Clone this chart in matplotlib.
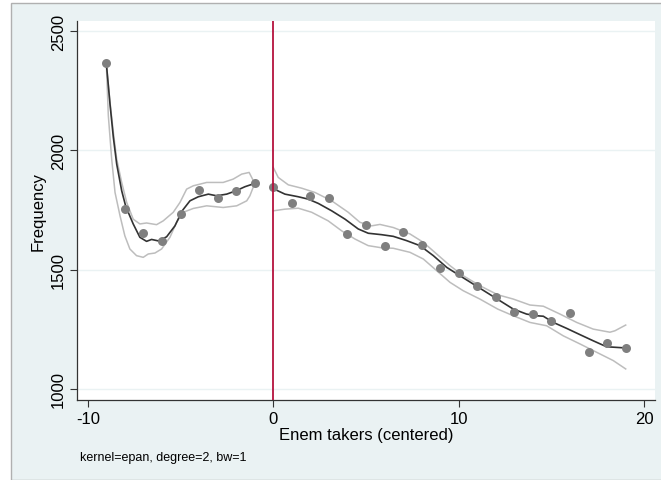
import matplotlib
matplotlib.use('Agg')
import matplotlib.pyplot as plt
from matplotlib.patches import Rectangle

plt.rcParams['font.family'] = ['Liberation Sans', 'DejaVu Sans']
plt.rcParams['axes.unicode_minus'] = False

# binned counts of Enem takers, left and right of the cutoff
x_left = [-9, -8, -7, -6, -5, -4, -3, -2, -1]
freq_left = [2366, 1754, 1654, 1622, 1733, 1834, 1800, 1831, 1862]
x_right = [0, 1, 2, 3, 4, 5, 6, 7, 8, 9, 10, 11, 12, 13, 14, 15, 16, 17, 18, 19]
freq_right = [1848, 1780, 1808, 1799, 1650, 1687, 1601, 1657, 1604, 1506,
              1485, 1430, 1387, 1324, 1314, 1284, 1317, 1156, 1191, 1170]

# lpoly smooth (epan, degree 2, bw 1), each side of the cutoff
fit_left_x = [-9.0, -8.80, -8.62, -8.44, -8.17, -7.95, -7.55, -7.19, -6.83, -6.56, -6.20,
              -5.75, -5.30, -4.91, -4.49, -4.04, -3.50, -3.05, -2.51, -2.01, -1.53, -1.0]
fit_left = [2366, 2194, 2055, 1943, 1831, 1765, 1692, 1636, 1619, 1627, 1621,
            1638, 1684, 1747, 1789, 1806, 1817, 1810, 1817, 1831, 1848, 1862]
fit_right_x = [0, 0.63, 1.35, 1.89, 2.43, 3.15, 3.87, 4.58, 5.12, 5.84, 6.47, 7.19, 7.91,
               8.63, 9.35, 10.06, 10.78, 11.50, 12.22, 12.94, 13.66, 14.20, 14.56, 15.10,
               15.82, 16.53, 17.25, 17.97, 19.0]
fit_right = [1840, 1817, 1806, 1796, 1778, 1747, 1712, 1671, 1653, 1647, 1640, 1622, 1601,
             1559, 1510, 1475, 1440, 1405, 1370, 1335, 1314, 1307, 1305, 1279,
             1254, 1228, 1202, 1177, 1172]

# 95% CI bands
ci_left_x_hi = [-9.0, -8.80, -8.62, -8.44, -8.17, -7.90, -7.55, -7.19, -6.83, -6.29,
                -5.93, -5.39, -5.03, -4.67, -4.31, -3.59, -2.70, -2.16, -1.70, -1.30, -1.0]
ci_left_hi = [2366, 2202, 2076, 1964, 1866, 1782, 1712, 1692, 1696, 1689,
              1705, 1741, 1782, 1838, 1852, 1866, 1866, 1880, 1901, 1908, 1862]
ci_left_x_lo = [-9.0, -8.89, -8.71, -8.53, -8.26, -8.00, -7.73, -7.37, -7.01, -6.74, -6.38,
                -6.02, -5.57, -5.21, -4.85, -4.31, -3.59, -2.70, -1.97, -1.43, -1.26, -1.0]
ci_left_lo = [2366, 2145, 1964, 1824, 1726, 1642, 1587, 1559, 1552, 1566, 1570,
              1587, 1636, 1699, 1741, 1757, 1768, 1761, 1768, 1789, 1810, 1862]

ci_right_x_hi = [0, 0.27, 0.81, 1.53, 2.25, 3.15, 4.04, 4.67, 5.30, 5.75, 6.47, 7.37, 8.09,
                 8.81, 9.53, 10.24, 11.14, 12.1, 12.94, 13.84, 14.56, 15.46, 16.36,
                 17.25, 18.15, 18.42, 19.0]
ci_right_hi = [1929, 1887, 1856, 1842, 1824, 1789, 1741, 1699, 1684, 1690, 1677, 1650, 1615,
               1566, 1517, 1475, 1433, 1395, 1377, 1352, 1347, 1314, 1279,
               1251, 1238, 1244, 1268]
ci_right_x_lo = [0, 0.63, 1.35, 2.07, 2.96, 3.69, 4.40, 5.12, 5.84, 6.47, 7.37, 8.09, 8.81,
                 9.53, 10.24, 11.14, 12.1, 12.94, 13.84, 14.74, 15.63, 16.53, 17.43,
                 18.33, 19.0]
ci_right_lo = [1747, 1754, 1758, 1741, 1705, 1663, 1629, 1601, 1592, 1590, 1573, 1545, 1496,
               1447, 1412, 1377, 1335, 1307, 1279, 1265, 1223, 1189, 1154,
               1119, 1084]

bg = '#EAF2F3'
fig = plt.figure(figsize=(6.61, 4.81), dpi=100, facecolor='white')
fig.patches.append(Rectangle((11 / 661, 0), 1, (481 - 4) / 481, transform=fig.transFigure,
                             facecolor=bg, edgecolor='#B0B0B0', linewidth=1, zorder=-10))
ax = fig.add_axes([77 / 661, (481 - 400.7) / 481, (655 - 77) / 661, (400.7 - 22) / 481])
ax.set_zorder(5)
ax.set_facecolor('white')

band_col = '#BDBDBD'
ax.plot(ci_left_x_hi, ci_left_hi, color=band_col, lw=1.1, zorder=2)
ax.plot(ci_left_x_lo, ci_left_lo, color=band_col, lw=1.1, zorder=2)
ax.plot(ci_right_x_hi, ci_right_hi, color=band_col, lw=1.1, zorder=2)
ax.plot(ci_right_x_lo, ci_right_lo, color=band_col, lw=1.1, zorder=2)

ax.plot(fit_left_x, fit_left, color='#333333', lw=1.2, zorder=3)
ax.plot(fit_right_x, fit_right, color='#333333', lw=1.2, zorder=3)

ax.scatter(x_left, freq_left, s=42, color='#7F7F7F', zorder=4, linewidths=0)
ax.scatter(x_right, freq_right, s=42, color='#7F7F7F', zorder=4, linewidths=0)

ax.axvline(0, color='#B5123E', lw=1.3, zorder=5)

ax.set_xlim(-10.58, 20.58)
ax.set_ylim(955, 2543)
ax.set_xticks([-10, 0, 10, 20])
ax.set_yticks([1000, 1500, 2000, 2500])
ax.set_yticklabels(['1000', '1500', '2000', '2500'], rotation=90, va='center')
ax.tick_params(labelsize=12, length=5, width=0.8, color='#333333', pad=3)
ax.grid(axis='y', color='#EAF2F3', lw=1)
ax.set_axisbelow(True)
for side in ['top', 'right']:
    ax.spines[side].set_visible(False)
for side in ['left', 'bottom']:
    ax.spines[side].set_color('#333333')
    ax.spines[side].set_linewidth(0.9)

ax.set_ylabel('Frequency', fontsize=12, labelpad=4)
ax.set_xlabel('Enem takers (centered)', fontsize=12, labelpad=1)

fig.text(80 / 661, 1 - 458 / 481, 'kernel=epan, degree=2, bw=1', fontsize=9, va='center')

plt.savefig('out.png', dpi=100, facecolor=fig.get_facecolor())
